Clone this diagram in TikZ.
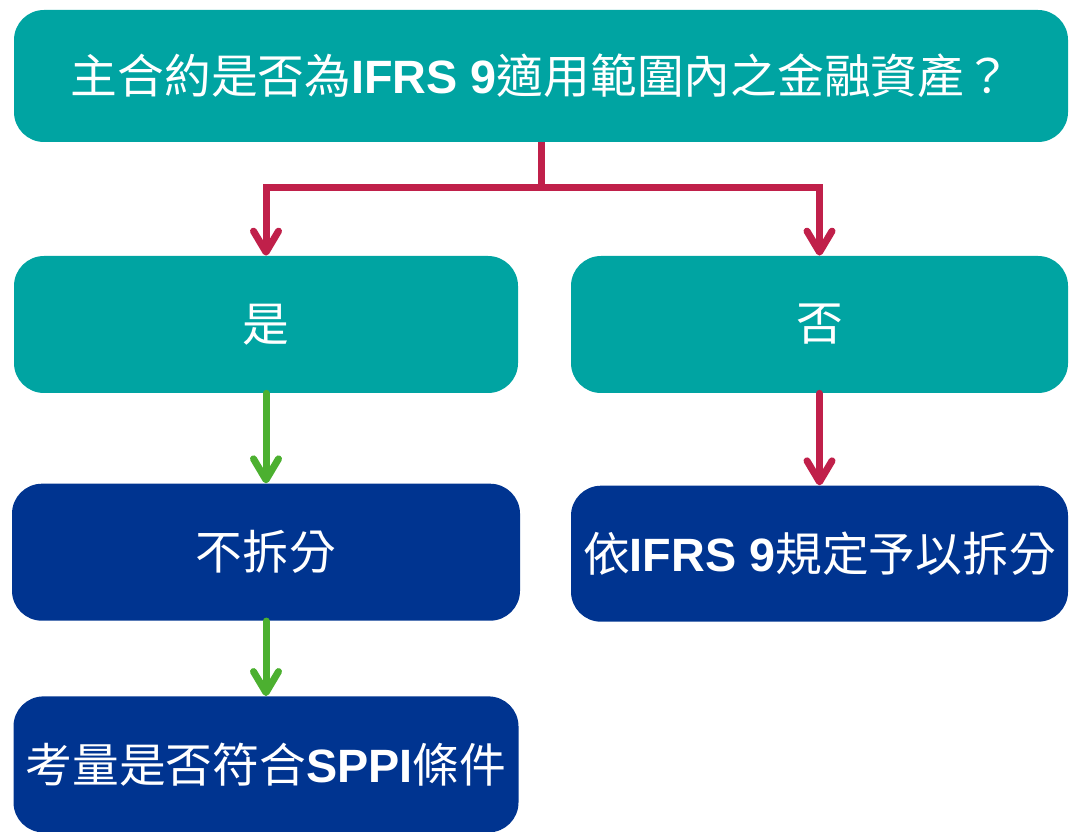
\documentclass[tikz,border=0pt]{standalone}
\usepackage{fontspec}
\setmainfont{Noto Sans CJK TC}
\newfontfamily\latfont{Liberation Sans}
\newcommand{\eng}[1]{{\latfont\bfseries #1}}
\usetikzlibrary{arrows.meta,positioning}

\definecolor{tealfill}{RGB}{0,164,162}
\definecolor{navyfill}{RGB}{0,52,144}
\definecolor{redline}{RGB}{192,32,74}
\definecolor{greenline}{RGB}{76,176,48}

\tikzset{
  box/.style={rounded corners=0.6cm, text=white, align=center,
    font=\fontsize{26.6}{30}\selectfont, minimum height=2.74cm, inner sep=0pt},
  tealbox/.style={box, fill=tealfill},
  navybox/.style={box, fill=navyfill},
  link/.style={line width=0.14cm, line cap=round,
    -{Straight Barb[length=0.42cm, width=0.5cm, line cap=round, line join=round]}},
  redlink/.style={link, draw=redline},
  greenlink/.style={link, draw=greenline}
}

\begin{document}
\begin{tikzpicture}
  \useasboundingbox (0,0) rectangle (21.4,-16.64);
  \node[tealbox, minimum width=21.08cm, minimum height=2.64cm] (top) at (10.82,-1.52)
    {主合約是否為\eng{IFRS 9}適用範圍內之金融資產？};
  \node[tealbox, minimum width=10.08cm] (yes) at (5.32,-6.49) {是};
  \node[tealbox, minimum width=9.94cm] (no) at (16.39,-6.49) {否};
  \node[navybox, minimum width=10.16cm, below=1.8cm of yes] (keep) {不拆分};
  \node[navybox, minimum width=9.94cm, minimum height=2.72cm, below=1.84cm of no] (split)
    {依\eng{IFRS 9}規定予以拆分};
  \node[navybox, minimum width=10.1cm, minimum height=2.72cm, below=1.5cm of keep] (sppi)
    {考量是否符合\eng{SPPI}條件};

  \coordinate (fork) at (10.82,-3.76);
  \draw[redline, line width=0.14cm] (top.south) -- (fork);
  \draw[redlink] (fork) -| (yes.north);
  \draw[redlink] (fork) -| (no.north);
  \draw[greenlink] (yes) -- (keep);
  \draw[greenlink] (keep) -- (sppi);
  \draw[redlink] (no) -- (split);
\end{tikzpicture}
\end{document}
